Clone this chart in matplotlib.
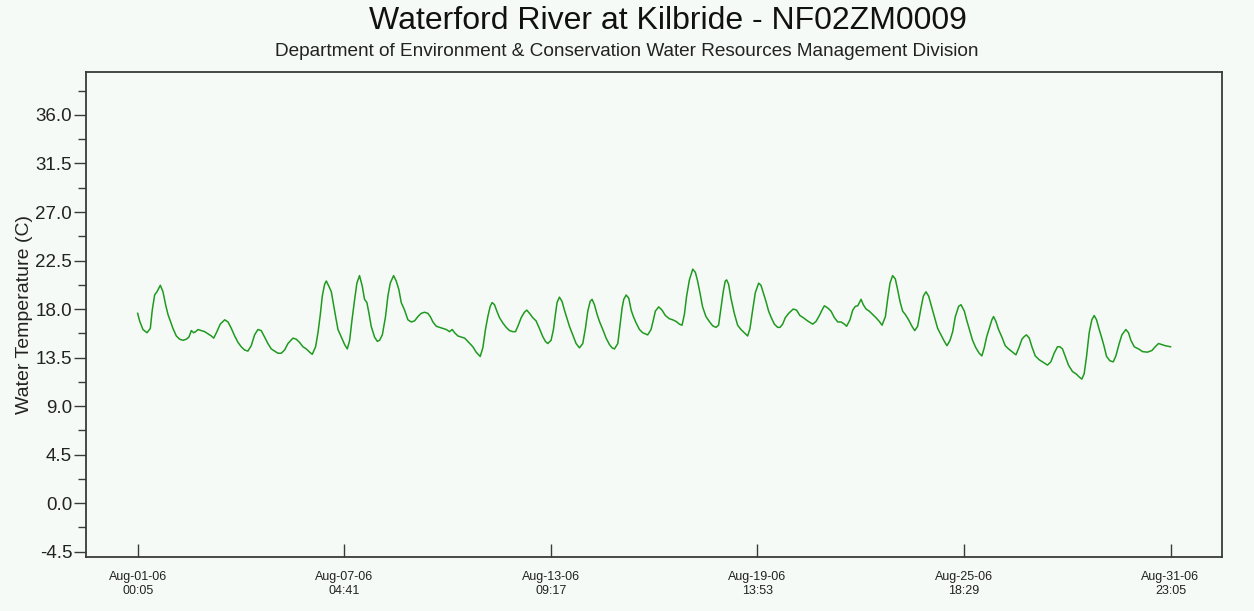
"""
Waterford River at Kilbride (NF02ZM0009) - water temperature, August 2006.
"""

import datetime as dt

import matplotlib
matplotlib.use("Agg")
import matplotlib.pyplot as plt
import matplotlib.dates as mdates
import pandas as pd

OUT_PATH = "out.png"

START = dt.datetime(2006, 8, 1, 0, 5)
END = dt.datetime(2006, 8, 31, 23, 5)

# hours after START
HOURS = [
    0, 1.4, 3.8, 6.7, 9.1, 10.5, 12.2, 13.9, 16.3, 18.2, 20.1, 21.8, 23.5, 25.4,
    27.8, 30.2, 32.6, 35.0, 36.9, 38.6, 40.3, 41.7, 43.4, 45.8, 48.2, 50.6, 53.0,
    54.7, 57.0, 59.4, 62.6, 65.0, 67.4, 69.8, 72.2, 74.5, 76.9, 79.3, 81.7, 84.1,
    86.5, 88.9, 91.3, 93.7, 96.1, 98.5, 100.9, 103.3, 105.7, 108.1, 111.7, 114.1,
    116.5,
    118.9, 121.3, 123.7, 125.6, 128.0, 129.7, 131.4, 132.8, 134.5, 135.7, 137.6,
    139.3, 140.5, 142.4, 144.1, 146.5, 148.9, 150.8, 152.5, 154.1, 156.1, 157.7,
    159.6, 161.6, 163.2, 164.9, 166.4, 168.0, 170.4, 172.4, 174.0, 176.0, 178.3,
    180.0, 181.7, 184.1, 186.0, 187.9, 189.6, 192.0, 194.4, 196.8, 199.2, 201.6,
    204.0, 206.4, 208.8, 210.5, 212.4, 214.8, 217.2, 219.6, 222.0, 224.4, 226.3,
    228.0, 230.4, 232.8, 235.2, 237.5,
    241.1, 243.5, 246.4, 248.3, 250.2, 251.9, 253.6, 255.0, 256.7, 258.4, 260.3,
    262.7, 265.1, 267.5, 269.9, 271.8, 273.5, 275.9, 278.2, 279.9, 281.9, 284.2,
    286.6, 289.0, 291.4, 293.3, 295.0, 297.4, 299.1, 300.5, 301.7, 303.4, 305.3,
    307.0, 308.7, 310.6, 313.0, 315.4, 317.8, 320.2, 322.1, 323.8, 325.5, 326.9,
    328.6, 330.5, 332.2, 334.6, 337.0, 339.4, 341.3, 343.0, 345.4, 347.0, 348.5,
    349.7, 351.4, 353.3, 355.0, 356.6, 358.6, 361.0,
    363.3, 366.9, 369.3, 371.0, 372.4, 374.8, 377.2, 379.6, 382.5, 384.9, 387.3,
    389.7, 391.6, 393.3, 394.9, 396.9, 399.3, 401.2, 402.8, 404.5, 406.4, 408.8,
    411.2, 413.6, 416.0, 417.9, 419.6, 421.3, 422.7, 423.7, 425.1, 426.8, 429.2,
    431.6, 434.0, 436.4, 438.8, 440.5, 442.4, 444.3, 446.7, 448.4, 450.1, 452.0,
    453.9, 455.8, 458.0, 460.4, 462.1, 464.0, 465.9, 468.3, 471.6, 474.0, 476.4,
    478.8, 481.9,
    485.6, 488.0, 490.4, 492.3, 494.0, 496.4, 498.8, 501.2, 503.6, 506.0, 508.4,
    510.0, 512.4, 514.4, 516.3, 518.0, 520.4, 522.0, 524.0, 526.3, 528.7, 531.1,
    533.5, 535.5, 537.9, 539.5, 541.2, 543.1, 545.0, 546.7, 548.4, 550.3, 552.2,
    554.6, 557.0, 559.0, 561.1, 563.5, 565.2, 567.1, 569.0, 570.7, 573.1, 575.5,
    577.9, 580.3, 582.2, 584.4, 586.3, 588.2, 590.6, 592.3, 594.7, 596.3, 598.3,
    600.6, 603.0, 605.4,
    607.3, 609.0, 610.7, 612.6, 614.5, 615.7, 617.4, 619.3, 621.7, 624.1, 626.5,
    628.9, 631.8, 634.2, 636.1, 637.8, 639.4, 641.4, 643.3, 645.7, 648.5, 652.1,
    654.5, 656.9, 659.3, 661.7, 663.4, 665.3, 667.2, 669.6, 672.5, 675.4, 677.3,
    679.2, 680.9, 682.6, 684.5, 686.4, 688.1, 689.8, 691.7, 693.6, 695.3, 697.0,
    699.4, 701.8, 703.7, 706.1, 708.0, 710.9, 712.8, 714.5, 716.9, 720.0, 722.9,
    726.4, 729.6, 732.0, 734.4, 736.8, 739.2, 743.0,
]

# water temperature (C)
TEMPS = [
    17.6, 16.9, 16.1, 15.8, 16.2, 17.9, 19.3, 19.6, 20.2, 19.6, 18.4, 17.5, 16.9, 16.2,
    15.5, 15.2, 15.1, 15.2, 15.4, 16.0, 15.8, 15.9, 16.1, 16.0, 15.9, 15.7, 15.5,
    15.3, 15.9, 16.6, 17.0, 16.8, 16.2, 15.5, 14.9, 14.5, 14.2, 14.1, 14.6, 15.6,
    16.1, 16.0, 15.4, 14.8, 14.3, 14.1, 13.9, 13.9, 14.2, 14.8, 15.3, 15.2,
    14.9,
    14.5, 14.3, 14.0, 13.8, 14.5, 15.8, 17.5, 19.2, 20.3, 20.6, 20.1,
    19.6, 18.7, 17.3, 16.1, 15.4, 14.7, 14.3, 15.1, 16.9, 18.9, 20.4,
    21.1, 20.1, 18.9, 18.6, 17.6, 16.4, 15.4, 15.0, 15.1, 15.6, 17.3,
    19.2, 20.4, 21.1, 20.6, 19.8, 18.6, 17.9, 17.0, 16.8, 16.9, 17.3,
    17.6, 17.7, 17.6, 17.3, 16.8, 16.4, 16.3, 16.2, 16.1, 15.9, 16.1,
    15.8, 15.5, 15.4, 15.3, 15.0,
    14.5, 14.0, 13.6, 14.4, 16.1, 17.3, 18.25, 18.6, 18.4, 17.8, 17.2,
    16.7, 16.3, 16.0, 15.9, 15.9, 16.4, 17.2, 17.7, 17.9, 17.6, 17.2,
    16.9, 16.2, 15.45, 15.0, 14.8, 15.1, 16.1, 17.5, 18.6, 19.1, 18.7,
    17.9, 17.2, 16.4, 15.6, 14.8, 14.4, 14.8, 16.2, 17.8, 18.7, 18.9,
    18.4, 17.5, 16.85, 16.1, 15.3, 14.7, 14.4, 14.3, 14.8, 16.5, 18.1,
    18.9, 19.3, 19.0, 17.9, 17.3, 16.7, 16.1,
    15.8, 15.6, 16.1, 17.0, 17.8, 18.2, 17.9, 17.4, 17.1, 17.0, 16.85,
    16.6, 16.5, 17.5, 19.2, 20.7, 21.7, 21.4, 20.6, 19.5, 18.2, 17.3,
    16.85, 16.45, 16.3, 16.5, 18.1, 19.65, 20.6, 20.7, 20.3, 19.0, 17.6,
    16.5, 16.1, 15.8, 15.5, 16.2, 17.9, 19.5, 20.4, 20.2, 19.5, 18.7,
    17.8, 17.2, 16.6, 16.3, 16.3, 16.6, 17.2, 17.6, 18.0, 17.9, 17.4,
    17.2, 16.9,
    16.6, 16.85, 17.4, 17.9, 18.3, 18.1, 17.8, 17.2, 16.8, 16.8, 16.6,
    16.4, 17.0, 17.9, 18.25, 18.3, 18.9, 18.4, 18.0, 17.8, 17.5, 17.2,
    16.85, 16.5, 17.3, 18.9, 20.4, 21.1, 20.8, 19.8, 18.7, 17.8, 17.5,
    17.0, 16.4, 16.0, 16.4, 18.1, 19.2, 19.6, 19.2, 18.4, 17.3, 16.2,
    15.6, 15.0, 14.6, 15.1, 15.9, 17.3, 18.25, 18.4, 17.8, 17.0, 16.1,
    15.1, 14.4, 13.9,
    13.65, 14.4, 15.4, 16.2, 17.0, 17.3, 16.85, 16.1, 15.4, 14.6, 14.3,
    14.05, 13.75, 14.5, 15.2, 15.45, 15.6, 15.3, 14.5, 13.65, 13.3, 13.0,
    12.8, 13.1, 13.9, 14.5, 14.5, 14.3, 13.65, 12.8, 12.2, 11.95, 11.7,
    11.5, 12.0, 13.6, 15.8, 17.0, 17.4, 17.0, 16.1, 15.3, 14.5, 13.6,
    13.2, 13.1, 13.65, 14.8, 15.6, 16.1, 15.8, 15.1, 14.5, 14.3, 14.05,
    14.0, 14.15, 14.5, 14.8, 14.7, 14.6, 14.5,
]

Y_TICKS = [-4.5, 0.0, 4.5, 9.0, 13.5, 18.0, 22.5, 27.0, 31.5, 36.0]

TITLE = "Waterford River at Kilbride - NF02ZM0009"
SUBTITLE = "Department of Environment & Conservation Water Resources Management Division"

BG = "#f6faf7"
LINE = "#1f9a1f"
AXIS = "#3a3a3a"
TEXT = "#222222"


def main():
    plt.rcParams["font.family"] = ["Liberation Sans", "DejaVu Sans"]

    times = pd.Timestamp(START) + pd.to_timedelta(HOURS, unit="h")

    fig = plt.figure(figsize=(12.54, 6.11), dpi=100, facecolor=BG)
    ax = fig.add_axes([0.0686, 0.0884, 0.906, 0.794], facecolor=BG)

    ax.plot(times, TEMPS, color=LINE, linewidth=1.1)

    # x axis: six ticks evenly spread from first to last reading
    span = END - START
    ticks = [START + span * k / 5 for k in range(6)]
    pad = span * 0.05
    ax.set_xlim(START - pad, END + pad)
    ax.set_xticks(ticks)
    ax.xaxis.set_major_formatter(mdates.DateFormatter("%b-%d-%y\n%H:%M"))
    ax.tick_params(axis="x", direction="in", length=9.5, width=1, colors=AXIS,
                   labelsize=9, labelcolor=TEXT, pad=10)

    ax.set_ylim(-5, 40)
    ax.set_yticks(Y_TICKS)
    ax.set_yticklabels([f"{v:.1f}" for v in Y_TICKS])
    ax.set_yticks([v + 2.25 for v in Y_TICKS], minor=True)
    ax.tick_params(axis="y", which="major", direction="out", length=9, width=1,
                   colors=AXIS, labelsize=13.5, labelcolor=TEXT, pad=1)
    ax.tick_params(axis="y", which="minor", direction="out", length=6, width=1,
                   colors=AXIS)

    ax.set_ylabel("Water Temperature (C)", fontsize=14, color=TEXT, labelpad=2)

    for sp in ax.spines.values():
        sp.set_color(AXIS)
        sp.set_linewidth(1.3)

    fig.text(0.533, 0.966, TITLE, ha="center", va="center", fontsize=23, color="#111111")
    fig.text(0.5, 0.915, SUBTITLE, ha="center", va="center", fontsize=13.7, color=TEXT)

    fig.savefig(OUT_PATH, dpi=100, facecolor=BG)


if __name__ == "__main__":
    main()
